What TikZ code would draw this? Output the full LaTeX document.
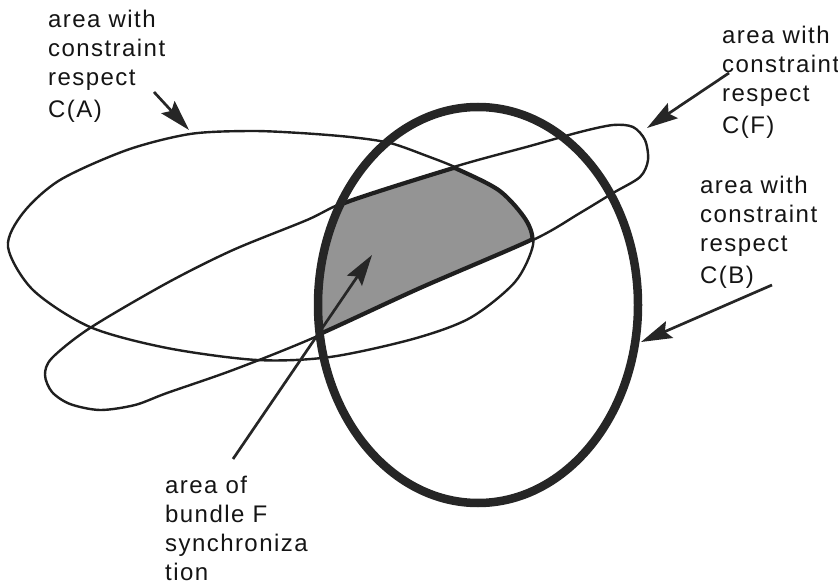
\documentclass[tikz,border=0pt]{standalone}
\usepackage{fontspec}
\setmainfont{Liberation Sans}
\usetikzlibrary{arrows.meta}
\begin{document}
\begin{tikzpicture}[x=1pt,y=-1pt,
  thinline/.style={line width=2.4pt, draw=black!88},
  ring/.style={line width=8.5pt, draw=black!85},
  edgeline/.style={line width=6pt, draw=black!88},
  lab/.style={anchor=north west, inner sep=0pt, align=left,
    font=\fontsize{24}{29}\selectfont\addfontfeatures{LetterSpace=6}, text=black!92},
  pointer/.style={line width=2.7pt, draw=black!85,
    -{Stealth[length=31pt,width=18pt,inset=5pt]}}
]
\useasboundingbox (0,0) rectangle (838,585);

\def\shapeA{plot[smooth cycle] coordinates {(8,247) (23,213) (60,180) (127,150) (190,134) (250,131) (300,133) (350,137) (390,143) (427,156) (457,168) (500,190) (527,220) (533,245) (515,282) (470,318) (413,339) (330,357) (257,360) (167,348) (90,327) (33,290)}}
\def\shapeF{plot[smooth cycle] coordinates {(45,375) (52,392) (70,404) (100,410) (135,405) (167,393) (233,370) (313,338) (420,289) (533,240) (580,213) (613,193) (640,177) (648,160) (645,140) (633,127) (613,125) (580,132) (530,146) (457,166) (350,200) (307,220) (233,250) (167,283) (90,328) (52,358)}}
\def\shapeB{(478,305) ellipse [x radius=160, y radius=198]}

% shaded area of synchronization
\begin{scope}
  \clip \shapeA;
  \clip \shapeF;
  \fill[black!42] \shapeB;
\end{scope}
\begin{scope}
  \clip \shapeA;
  \clip \shapeF;
  \clip \shapeB;
  \draw[edgeline] \shapeA;
  \draw[edgeline] \shapeF;
\end{scope}

\draw[thinline] \shapeA;
\draw[thinline] \shapeF;
\coordinate (cB) at (478,305);
\draw[ring] \shapeB;

% labels
\node[lab] (labA) at (48,10) {area with\\constraint\\respect\\[3pt]C(A)};
\node[lab] (labF) at (722,26) {area with\\constraint\\respect\\[3pt]C(F)};
\node[lab] (labB) at (700,176) {area with\\constraint\\respect\\[3pt]C(B)};
\node[lab] (labS) at (165,475.5) {area of\\bundle F\\synchroniza\\tion};

% arrows
\coordinate (sA) at (154,92);  \coordinate (tA) at (189,130);
\coordinate (sF) at (729,73);  \coordinate (tF) at (647,128);
\coordinate (sB) at (772,285); \coordinate (tB) at (641,342);
\coordinate (sS) at (233,459); \coordinate (tS) at (372,255);
\draw[pointer] (sA) -- (tA);
\draw[pointer] (sF) -- (tF);
\draw[pointer] (sB) -- (tB);
\draw[pointer] (sS) -- (tS);
\end{tikzpicture}
\end{document}
